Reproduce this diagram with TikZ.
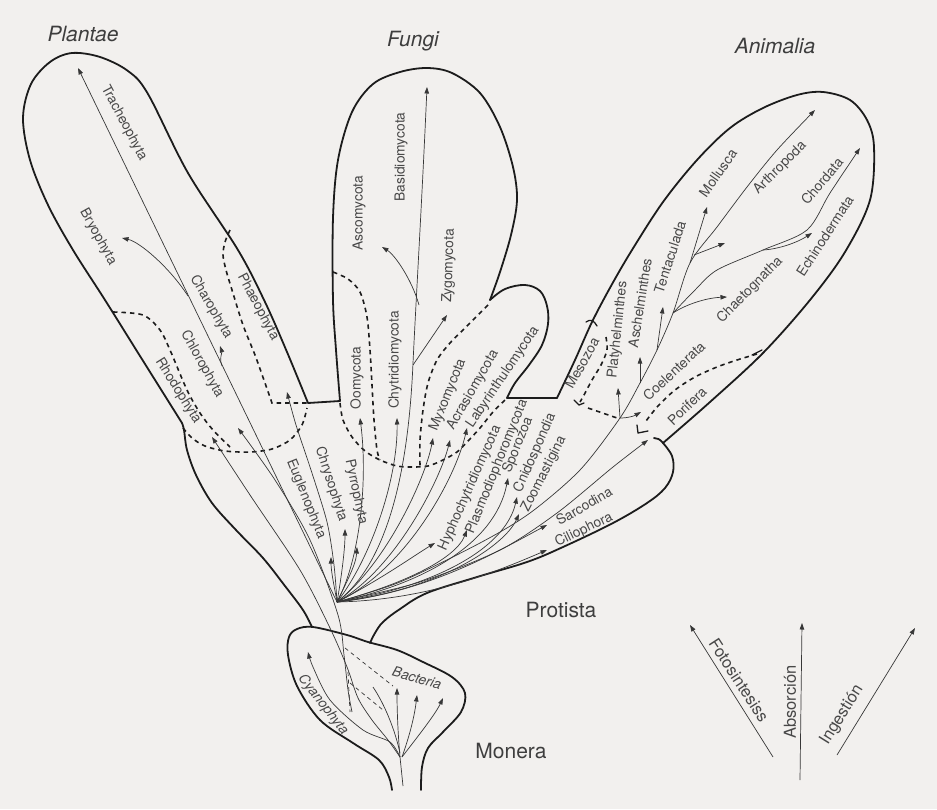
\documentclass[tikz,border=0pt]{standalone}
\usepackage{fontspec}
\setmainfont{TeX Gyre Heros}
\usetikzlibrary{arrows.meta}
\definecolor{bg}{RGB}{242,240,238}
\definecolor{ink}{RGB}{28,28,28}
\definecolor{thinc}{RGB}{55,55,55}
\definecolor{txt}{RGB}{72,72,72}
\tikzset{
 outline/.style={draw=ink, line width=1.8pt, line join=round, line cap=round},
 sep/.style={draw=ink, line width=1.6pt, dash pattern=on 4.5pt off 4pt},
 br/.style={draw=thinc, line width=0.7pt},
 arr/.style={br, -{Triangle[length=6.5pt,width=4.5pt]}},
 tdash/.style={draw=thinc, line width=0.7pt, dash pattern=on 4pt off 3.5pt},
 lab/.style={text=txt, font=\fontsize{13.8}{13.8}\selectfont, inner sep=0pt},
 ilab/.style={text=txt, font=\fontsize{13.8}{13.8}\selectfont\itshape, inner sep=0pt},
 leglab/.style={text=txt, font=\fontsize{16.5}{16.5}\selectfont, inner sep=0pt},
 ktitle/.style={text=ink!85, font=\fontsize{21}{21}\selectfont\itshape, inner sep=0pt},
 ktitleup/.style={text=ink!85, font=\fontsize{21}{21}\selectfont, inner sep=0pt},
}
\begin{document}
\begin{tikzpicture}[x=1pt,y=-1pt]
\fill[bg] (0,0) rectangle (937,809);
\useasboundingbox (0,0) rectangle (937,809);

\coordinate (F) at (337,602);
\coordinate (B0) at (400,757);

% ---------- outlines ----------
\draw[outline] plot[smooth,tension=0.55] coordinates {(312,627) (303,610) (285,586) (263,558) (236,530) (212,503) (196,475) (187,450) (184,430) (182,423)};
\draw[outline] plot[smooth,tension=0.55] coordinates {(182,423) (140,356) (105,300) (73,250) (48,205) (30,160) (23,118) (31,84) (50,62) (72,53) (100,57) (128,71) (148,94) (188,173) (238,250) (265,302) (287,352) (308,403)} -- (340,401);
\draw[outline] plot[smooth,tension=0.55] coordinates {(340,401) (336,350) (333,300) (333,218) (338,160) (352,112) (373,84) (400,72) (427,68) (452,73) (480,93) (500,127) (513,167) (517,200) (511,235) (500,272) (490,300)};
\draw[outline] plot[smooth,tension=0.6] coordinates {(490,300) (505,289) (525,285) (540,291) (547,306) (548,324) (542,345) (529,365) (515,383) (507,398)} -- (557,398);
\draw[outline] plot[smooth,tension=0.55] coordinates {(557,398) (575,360) (592,322) (611,286) (632,250) (663,202) (697,160) (730,128) (763,108) (797,95) (823,92) (850,100) (867,120) (874,147) (870,200) (845,252) (810,300) (763,353) (710,402) (663,443)};
\draw[outline] (663,443) .. controls (660,439) and (657,438) .. (654,438);
\draw[outline] plot[smooth,tension=0.6] coordinates {(663,443) (672,456) (673,472) (665,488) (647,503) (613,523) (563,547) (527,562) (477,577) (427,593) (400,609) (383,622) (375,633) (370,643)};
\draw[outline] plot[smooth,tension=0.55] coordinates {(392,790) (389,777) (379,760) (353,743) (320,720) (297,686) (288,655) (289,637) (297,629) (313,627) (347,635) (368,642) (397,650) (423,662) (452,677) (465,693) (461,712) (443,732) (428,748) (422,767) (421,790)};

% ---------- dashed separators ----------
\draw[sep] plot[smooth] coordinates {(113,312) (143,315) (160,330) (170,350) (187,390) (200,413) (213,430) (230,447)};
\draw[sep] plot[smooth] coordinates {(183,428) (192,438) (205,446) (225,451) (250,452) (272,449) (290,440) (302,425) (307,408)};
\draw[sep] plot[smooth] coordinates {(230,230) (225,242) (223,255) (226,270) (232,290) (243,325) (255,355) (265,383) (272,403)} -- (308,403);
\draw[sep] plot[smooth] coordinates {(333,272) (348,279) (360,292) (367,317) (370,350) (372,385) (374,420) (377,450) (380,460)};
\draw[sep] plot[smooth] coordinates {(340,403) (343,420) (352,437) (365,451) (380,460) (397,466) (412,467) (428,466) (443,460) (457,452) (468,441) (480,428) (493,412) (506,399)};
\draw[sep] plot[smooth] coordinates {(488,305) (477,316) (465,328) (450,343) (437,360) (428,383) (423,410) (420,440) (420,466)};
% Mesozoa
\draw[outline,line width=1.3pt] (586,322) .. controls (590,319) and (594,320) .. (597,326);
\draw[sep] plot[smooth] coordinates {(606,337) (607,350) (601,365) (592,380) (584,395) (580,402)};
\draw[outline,line width=1.3pt] (574,400) -- (579,405) -- (584,403);
\draw[sep] (588,408) -- (620,419);
% Porifera
\draw[outline,line width=1.3pt] (752,355) -- (762,350);
\draw[sep] plot[smooth] coordinates {(757,354) (737,360) (717,367) (695,377) (675,390) (658,406) (646,421)};
\draw[outline,line width=1.3pt] (637,425) -- (638,433) -- (648,431);

% ---------- Plantae branches ----------
\draw[arr] (F) -- (78,68);
\draw[arr] (188,296) .. controls (170,268) and (140,242) .. (122,238);
\draw[arr] (222,366) .. controls (219,360) and (222,352) .. (220,346);
\draw[arr] plot[smooth] coordinates {(F) (334,565) (327,522) (311,470) (296,425) (287,392)};
\draw[arr] plot[smooth] coordinates {(352,712) (348,690) (344,655) (338,615) (310,540) (275,480) (238,428)};
\draw[arr] plot[smooth] coordinates {(B0) (388,740) (372,720) (358,698) (347,667) (330,628) (300,570) (250,495) (212,437)};

% ---------- Protista / Fungi fan ----------
\draw[arr] (F) .. controls (335,590) and (331,572) .. (331,557);
\draw[arr] (F) .. controls (341,580) and (345,550) .. (345,529);
\draw[arr] (F) .. controls (345,585) and (356,565) .. (357,547);
\draw[arr] (F) .. controls (360,560) and (368,480) .. (360,418);
\draw[arr] (F) .. controls (370,560) and (398,480) .. (397,418);
\draw[arr] (F) .. controls (385,565) and (408,480) .. (413,363) .. controls (416,300) and (422,200) .. (427,87);
\draw[arr] (419,305) .. controls (412,280) and (395,255) .. (382,247);
\draw[arr] (413,365) -- (447,315);
\draw[arr] (F) .. controls (385,565) and (425,480) .. (433,438);
\draw[arr] (F) .. controls (395,570) and (440,480) .. (450,440);
\draw[arr] (F) .. controls (405,570) and (455,480) .. (467,428);
\draw[arr] (F) .. controls (380,580) and (415,555) .. (435,543);
\draw[arr] (F) .. controls (400,585) and (455,560) .. (467,530);
\draw[arr] (F) .. controls (420,585) and (495,545) .. (508,478);
\draw[arr] (F) .. controls (430,588) and (505,550) .. (517,497);
\draw[arr] (F) .. controls (440,590) and (505,545) .. (519,514);
\draw[arr] (F) .. controls (430,592) and (500,550) .. (547,525);
\draw[arr] (F) .. controls (430,600) and (500,570) .. (547,550);
\draw[arr] plot[smooth] coordinates {(F) (420,582) (500,550) (557,513) (613,467) (648,440)};

% ---------- Animalia ----------
\draw[arr] plot[smooth] coordinates {(F) (400,582) (480,543) (530,513) (580,470) (620,418) (640,383) (657,350) (673,313) (690,263) (717,227) (747,187) (777,150) (815,110)};
\draw[arr] (620,418) -- (618,388);
\draw[arr] (620,418) .. controls (628,418) and (634,416) .. (641,412);
\draw[arr] (640,383) -- (640,357);
\draw[arr] (657,350) -- (663,307);
\draw[arr] (673,313) .. controls (685,305) and (705,298) .. (727,297);
\draw[arr] plot[smooth] coordinates {(673,313) (695,290) (717,270) (763,250) (807,230) (830,193) (860,148)};
\draw[arr] (763,250) .. controls (780,249) and (798,242) .. (812,233);
\draw[arr] (690,263) -- (707,207);
\draw[arr] (694,255) -- (725,243);

% ---------- Monera ----------
\draw[arr] plot[smooth] coordinates {(B0) (390,742) (363,730) (330,700) (313,667) (308,652)};
\draw[arr] (B0) .. controls (398,735) and (397,710) .. (397,688);
\draw[arr] (402,757) .. controls (408,740) and (414,720) .. (417,695);
\draw[arr] (402,757) .. controls (415,740) and (435,715) .. (443,698);
\draw[br] (400,753) .. controls (395,730) and (385,705) .. (373,687);
\draw[br] (B0) -- (403,786);
\draw[tdash] (345,648) -- (393,686);
\draw[tdash] (350,683) -- (383,710);
\draw[tdash] (348,672) -- (350,712);

% ---------- legend ----------
\draw[arr] (773,757) -- (690,625);
\draw[arr] (800,780) -- (802,623);
\draw[arr] (837,755) -- (915,628);

% ---------- titles ----------
\node[ktitle] (tpl) at (83,34) {Plantae};
\node[ktitle] (tfu) at (413,41) {Fungi};
\node[ktitle] (tan) at (775,46) {Animalia};
\node[ktitleup] (tpr) at (561,610) {Protista};
\node[ktitleup] (tmo) at (511,751) {Monera};

% ---------- labels ----------
\node[lab,rotate=-62] (l1) at (124,123) {Tracheophyta};
\node[lab,rotate=-61] (l2) at (98,237) {Bryophyta};
\node[lab,rotate=-60] (l3) at (211,307) {Charophyta};
\node[lab,rotate=-62] (l4) at (258,307) {Phaeophyta};
\node[lab,rotate=-61] (l5) at (202,364) {Chlorophyta};
\node[lab,rotate=-58] (l6) at (178,391) {Rhodophyta};
\node[lab,rotate=-68] (l7) at (306,499) {Euglenophyta};
\node[lab,rotate=-72] (l8) at (331,484) {Chrysophyta};
\node[lab,rotate=-78] (l9) at (356,492) {Pyrrophyta};
\node[lab,rotate=90] (l10) at (357,378) {Oomycota};
\node[lab,rotate=90] (l11) at (395,360) {Chytridiomycota};
\node[lab,rotate=90] (l12) at (359,213) {Ascomycota};
\node[lab,rotate=90] (l13) at (401,157) {Basidiomycota};
\node[lab,rotate=88] (l14) at (449,266) {Zygomycota};
\node[lab,rotate=68] (l15) at (448,395) {Myxomycota};
\node[lab,rotate=60] (l16) at (473,390) {Acrasiomycota};
\node[lab,rotate=56] (l17) at (503,377) {Labyrinthulomycota};
\node[lab,rotate=66] (l18) at (470,488) {Hyphochytridiomycota};
\node[lab,rotate=68] (l19) at (497,467) {Plasmodiophoromycota};
\node[lab,rotate=68] (l20) at (518,445) {Sporozoa};
\node[lab,rotate=66] (l21) at (535,453) {Cnidospondia};
\node[lab,rotate=63] (l22) at (544,474) {Zoomastigina};
\node[lab,rotate=30] (l23) at (584,506) {Sarcodina};
\node[lab,rotate=26] (l24) at (584,530) {Ciliophora};
\node[lab,rotate=61] (l25) at (582,363) {Mesozoa};
\node[lab,rotate=84] (l26) at (618,330) {Platyhelminthes};
\node[lab,rotate=81] (l27) at (640,303) {Aschelminthes};
\node[lab,rotate=72] (l28) at (670,257) {Tentaculada};
\node[lab,rotate=55] (l29) at (718,173) {Mollusca};
\node[lab,rotate=45] (l30) at (780,168) {Arthropoda};
\node[lab,rotate=50] (l31) at (822,181) {Chordata};
\node[lab,rotate=57] (l32) at (825,236) {Echinodermata};
\node[lab,rotate=45] (l33) at (750,290) {Chaetognatha};
\node[lab,rotate=43] (l34) at (674,371) {Coelenterata};
\node[lab,rotate=44] (l35) at (687,406) {Porifera};
\node[ilab,rotate=-52] (l36) at (323,705) {Cyanophyta};
\node[ilab,rotate=-16] (l37) at (417,678) {Bacteria};
\node[leglab,rotate=-57] (l38) at (739,680) {Fotosintesiss};
\node[leglab,rotate=90] (l39) at (790,702) {Absorción};
\node[leglab,rotate=58] (l40) at (842,715) {Ingestión};
\end{tikzpicture}
\end{document}
